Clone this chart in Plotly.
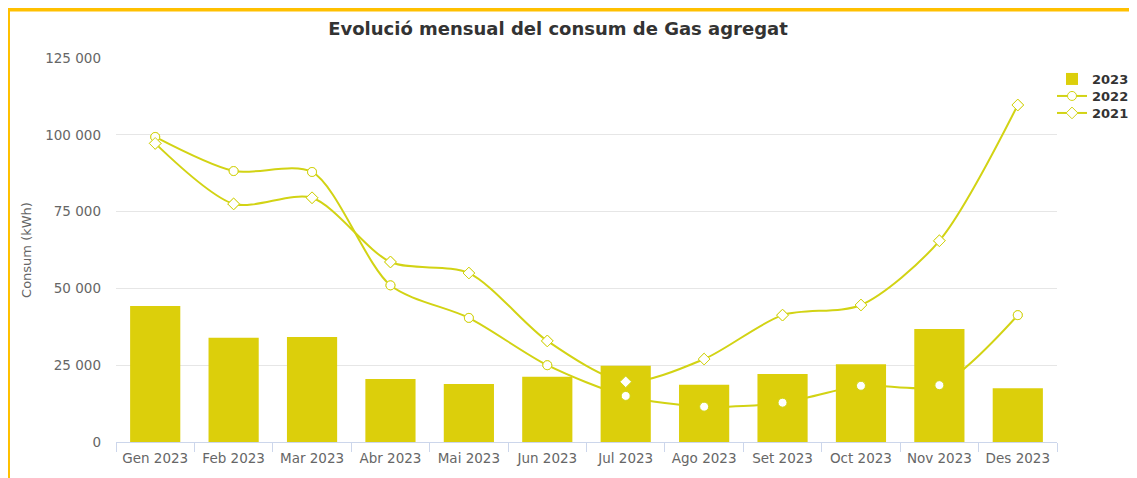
import plotly.graph_objects as go

months = ["Gen 2023", "Feb 2023", "Mar 2023", "Abr 2023", "Mai 2023", "Jun 2023",
          "Jul 2023", "Ago 2023", "Set 2023", "Oct 2023", "Nov 2023", "Des 2023"]
consum_2023 = [44300, 33900, 34200, 20500, 18900, 21200, 24800, 18600, 22100, 25300, 36800, 17500]
consum_2022 = [99300, 88200, 87900, 51000, 40400, 25000, 15000, 11500, 12800, 18300, 18500, 41300]
consum_2021 = [97200, 77500, 79500, 58600, 55000, 32900, 19600, 27000, 41300, 44600, 65500, 109700]

BAR = "#DCCF0B"
LINE = "#D2D314"
OFF = 8  # page body margin
W, H = 1137 - OFF, 478 - OFF
# plot area in reference pixel coordinates
PX0, PX1, PY0, PY1 = 116, 1057, 58, 442
L, R, T, B = PX0 - OFF, W - (PX1 - OFF), PY0 - OFF, H - (PY1 - OFF)
pw, ph = W - L - R, H - T - B

def px2x(p):
    return (p - OFF - L) / pw

def py2y(p):
    return (H - B - (p - OFF)) / ph

def cx(p):
    return (p - OFF) / W

def cy(p):
    return 1 - (p - OFF) / H

fig = go.Figure()

# lines (bottom layer)
fig.add_trace(go.Scatter(x=months, y=consum_2022, name="2022", mode="lines+markers",
                         line=dict(color=LINE, width=2, shape="spline", smoothing=0.8),
                         marker=dict(symbol="circle", size=9, color="white", line=dict(color=LINE, width=1)),
                         legend="legend2", xaxis="x", yaxis="y"))
fig.add_trace(go.Scatter(x=months, y=consum_2021, name="2021", mode="lines+markers",
                         line=dict(color=LINE, width=2, shape="spline", smoothing=0.8),
                         marker=dict(symbol="diamond", size=9, color="white", line=dict(color=LINE, width=1)),
                         legend="legend3", xaxis="x", yaxis="y"))
# bars (middle layer)
fig.add_trace(go.Bar(x=months, y=consum_2023, name="2023", marker=dict(color=BAR, line=dict(width=0)),
                     legend="legend", xaxis="x", yaxis="y2"))
# markers on top
fig.add_trace(go.Scatter(x=months, y=consum_2022, mode="markers", showlegend=False,
                         marker=dict(symbol="circle", size=9, color="white", line=dict(color=LINE, width=1)),
                         xaxis="x", yaxis="y3", hoverinfo="skip"))
fig.add_trace(go.Scatter(x=months, y=consum_2021, mode="markers", showlegend=False,
                         marker=dict(symbol="diamond", size=9, color="white", line=dict(color=LINE, width=1)),
                         xaxis="x", yaxis="y3", hoverinfo="skip"))

def leg(py):
    return dict(xref="container", yref="container", x=cx(1052), y=cy(py),
                xanchor="left", yanchor="middle",
                font=dict(size=13, color="#333333", weight="bold"), itemwidth=30,
                bgcolor="rgba(0,0,0,0)", borderwidth=0)

yr = [0, 125000]
fig.update_layout(
    width=W, height=H,
    margin=dict(l=L, r=R, t=T, b=B, pad=0, autoexpand=False),
    paper_bgcolor="white", plot_bgcolor="white",
    separators=". ",
    font=dict(family="DejaVu Sans", size=13, color="#666666"),
    title=dict(text="<b>Evolució mensual del consum de Gas agregat</b>",
               xref="container", x=cx(558), xanchor="center",
               yref="container", y=cy(29), yanchor="middle",
               font=dict(size=18, color="#333333")),
    bargap=0.36,
    showlegend=True,
    legend=leg(79),
    legend2=leg(96),
    legend3=leg(113),
    xaxis=dict(type="category", range=[-0.5, 11.5], showgrid=False, showline=True,
               linecolor="#ccd6eb", linewidth=1,
               ticks="outside", tickson="boundaries", ticklen=9, tickcolor="#ccd6eb",
               ticklabelstandoff=4, automargin=False,
               tickfont=dict(size=13.5, color="#666666"), zeroline=False),
    yaxis=dict(range=yr, dtick=25000, tickformat=",", showgrid=True, gridcolor="#e6e6e6",
               zeroline=False, showline=False, ticklabelstandoff=14, automargin=False,
               tickfont=dict(size=13.5, color="#666666"),
               title=dict(text="Consum (kWh)", font=dict(size=13, color="#666666"), standoff=10)),
    yaxis2=dict(range=yr, overlaying="y", visible=False, showgrid=False),
    yaxis3=dict(range=yr, overlaying="y", visible=False, showgrid=False),
    shapes=[
        dict(type="line", xref="paper", yref="paper", x0=px2x(6), x1=px2x(1160),
             y0=py2y(9.5), y1=py2y(9.5), line=dict(color="#FFC000", width=4)),
        dict(type="line", xref="paper", yref="paper", x0=px2x(8), x1=px2x(8),
             y0=py2y(8), y1=py2y(520), line=dict(color="#FFC000", width=4)),
    ],
)

fig.write_html("out.html")
